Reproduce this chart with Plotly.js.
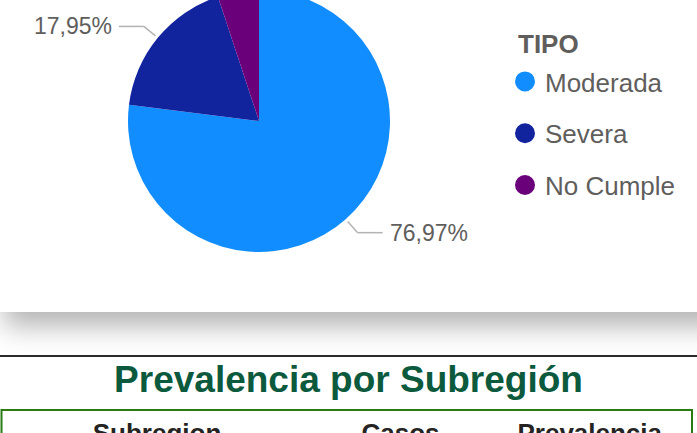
<!DOCTYPE html>
<html>
<head>
<meta charset="utf-8">
<script src="https://cdn.plot.ly/plotly-3.0.1.min.js"></script>
<style>
  html, body { margin: 0; padding: 0; background: #fff; }
  body { width: 697px; height: 433px; overflow: hidden; position: relative; font-family: "Liberation Sans", Arial, sans-serif; }
  #card { position: absolute; left: -6px; top: -40px; width: 760px; height: 352px; background: #fff;
          box-shadow: 0 24px 26px -10px rgba(0,0,0,0.30); }
  #pie { position: absolute; left: 6px; top: 0; width: 697px; height: 352px; }
  #rule { position: absolute; left: 0; top: 355px; width: 697px; height: 2px; background: #2b2b2b; }
  #sec2 { position: absolute; left: 0; top: 357px; width: 697px; height: 120px; }
</style>
</head>
<body>
<div id="card"><div id="pie"></div></div>
<div id="rule"></div>
<div id="sec2"></div>
<script>
// ---- data ----
var categories = ["Moderada", "Severa", "No Cumple"];
var shares = [76.97, 17.95, 5.08];
var sliceColors = ["#118DFF", "#12239E", "#6B007B"];
var legendTitle = "TIPO";
var tableTitle = "Prevalencia por Subregión";
var tableHeaders = ["Subregion", "Casos", "Prevalencia"];

// ---- pie geometry (pixels inside the pie div) ----
var W = 697, H = 352;
var cx = 259, cy = 161, R = 131;
function px(x) { return x / W; }
function py(y) { return 1 - y / H; }

var traces = [{
  type: "pie",
  labels: categories,
  values: shares,
  sort: false,
  direction: "clockwise",
  rotation: 0,
  textinfo: "none",
  hoverinfo: "label+percent",
  marker: { colors: sliceColors, line: { width: 0 } },
  showlegend: false,
  domain: { x: [px(cx - R), px(cx + R)], y: [py(cy + R), py(cy - R)] }
}];
// legend entries with round markers
categories.forEach(function (c, i) {
  traces.push({
    type: "scatter", mode: "markers", x: [null], y: [null], name: c,
    legendgroup: "g" + i,
    marker: { symbol: "circle", size: 16, color: sliceColors[i], line: { color: sliceColors[i], width: 4 } },
    hoverinfo: "skip"
  });
});

// outside labels with leader lines, computed from the slice angles
var total = shares.reduce(function (a, b) { return a + b; }, 0);
var shapes = [], annotations = [];
var cum = 0;
shares.forEach(function (v, i) {
  var frac = v / total;
  var mid = 2 * Math.PI * (cum + frac / 2);
  cum += frac;
  if (frac < 0.1) return;
  var s = Math.sin(mid), c = Math.cos(mid);
  var x0 = cx + (R + 3) * s, y0 = cy - (R + 3) * c;
  var x1 = cx + (R + 18) * s, y1 = cy - (R + 18) * c;
  var dir = s >= 0 ? 1 : -1;
  var x2 = x1 + dir * 25;
  var lineStyle = { color: "#B3B3B3", width: 1.5 };
  shapes.push({ type: "line", xref: "paper", yref: "paper", x0: px(x0), y0: py(y0), x1: px(x1), y1: py(y1), line: lineStyle });
  shapes.push({ type: "line", xref: "paper", yref: "paper", x0: px(x1), y0: py(y1), x1: px(x2), y1: py(y1), line: lineStyle });
  annotations.push({
    xref: "paper", yref: "paper", x: px(x2 + dir * 5), y: py(y1),
    xanchor: dir > 0 ? "left" : "right", yanchor: "middle", showarrow: false,
    text: (frac * 100).toFixed(2).replace(".", ",") + "%",
    font: { size: 23, color: "#605E5C", family: "Liberation Sans, Arial, sans-serif" }
  });
});
// legend heading
annotations.push({
  xref: "paper", yref: "paper", x: px(516), y: py(84), xanchor: "left", yanchor: "middle",
  showarrow: false, text: "<b>" + legendTitle + "</b>",
  font: { size: 26, color: "#605E5C", family: "Liberation Sans, Arial, sans-serif" }
});

var layout = {
  width: W, height: H,
  margin: { l: 0, r: 0, t: 0, b: 0 },
  paper_bgcolor: "rgba(0,0,0,0)", plot_bgcolor: "rgba(0,0,0,0)",
  xaxis: { visible: false, range: [0, 1] },
  yaxis: { visible: false, range: [0, 1] },
  showlegend: true,
  legend: {
    x: px(505), y: py(98), xanchor: "left", yanchor: "top",
    font: { size: 26, color: "#605E5C", family: "Liberation Sans, Arial, sans-serif" },
    tracegroupgap: 15, bgcolor: "rgba(0,0,0,0)"
  },
  shapes: shapes,
  annotations: annotations,
  hovermode: false
};
Plotly.newPlot("pie", traces, layout, { displayModeBar: false, staticPlot: true });

// ---- second section: title + table header ----
var W2 = 697, H2 = 120;
var top2 = 357;
function qx(x) { return x / W2; }
function qy(y) { return 1 - (y - top2) / H2; }
var tableTop = 410;
var colWidths = [312, 175, 204];
var tableTrace = {
  type: "table",
  domain: { x: [qx(1), qx(692)], y: [0, qy(tableTop)] },
  columnwidth: colWidths,
  header: {
    values: tableHeaders.map(function (h) { return "<b>" + h + "</b>"; }),
    align: "center",
    height: 44,
    fill: { color: "#ffffff" },
    line: { width: 0, color: "#ffffff" },
    font: { size: 26, color: "#252423", family: "Liberation Sans, Arial, sans-serif" }
  },
  cells: { values: [[], [], []], fill: { color: "#ffffff" }, line: { width: 0, color: "#ffffff" } }
};
var layout2 = {
  width: W2, height: H2,
  margin: { l: 0, r: 0, t: 0, b: 0 },
  paper_bgcolor: "rgba(0,0,0,0)",
  title: {
    text: "<b>" + tableTitle + "</b>",
    x: 0.5, xanchor: "center",
    y: qy(379), yref: "paper", yanchor: "middle",
    font: { size: 37, color: "#0C5A3D", family: "Liberation Sans, Arial, sans-serif" }
  },
  shapes: [{
    type: "rect", xref: "paper", yref: "paper",
    x0: qx(1.5), x1: qx(692), y0: -0.5, y1: qy(tableTop),
    line: { color: "#2B7A14", width: 2 }
  }]
};
Plotly.newPlot("sec2", [tableTrace], layout2, { displayModeBar: false, staticPlot: true });
</script>
</body>
</html>
